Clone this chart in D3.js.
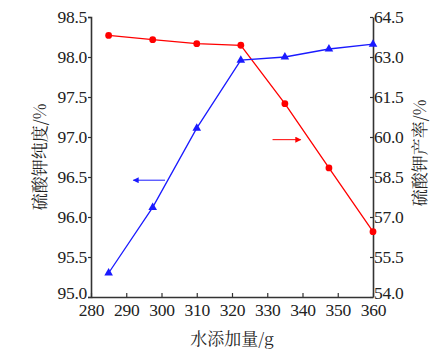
<!DOCTYPE html>
<html><head><meta charset="utf-8">
<script src="https://cdn.jsdelivr.net/npm/d3@7"></script>
<style>body{margin:0;background:#fff}</style>
</head><body><svg id="c" width="446" height="357"></svg>
<script>
const water = [285, 297.5, 310, 322.5, 335, 347.5, 360];
const purity = [95.30, 96.12, 97.11, 97.96, 98.00, 98.10, 98.16];
const yieldPct = [63.81, 63.65, 63.50, 63.44, 61.25, 58.84, 56.45];
const xTicks = [280, 290, 300, 310, 320, 330, 340, 350, 360];
const yLeftTicks = [95.0, 95.5, 96.0, 96.5, 97.0, 97.5, 98.0, 98.5];
const yRightTicks = [54.0, 55.5, 57.0, 58.5, 60.0, 61.5, 63.0, 64.5];
const xTitle = "水添加量/g", yLeftTitle = "硫酸钾纯度/%", yRightTitle = "硫酸钾产率/%";

const svg = d3.select("#c");
const L = 91, R = 373, T = 17, B = 297;
const x = d3.scaleLinear().domain([280, 360]).range([L, R]);
const yl = d3.scaleLinear().domain([95, 98.5]).range([B, T]);
const yr = d3.scaleLinear().domain([54, 64.5]).range([B, T]);
const font = "Liberation Serif";
const cjk = "Noto Serif CJK SC";
const axColor = "#333";

function style(g){
  g.select(".domain").attr("stroke", axColor).attr("stroke-width", 1.6);
  g.selectAll(".tick line").attr("stroke", axColor).attr("stroke-width", 1.2);
  g.selectAll(".tick text").attr("fill", "#222").attr("font-family", font).attr("font-size", 17.5)
    .style("letter-spacing", "-0.3px");
}
svg.append("g").attr("transform", `translate(0,${B})`)
  .call(d3.axisBottom(x).tickValues(xTicks).tickSizeInner(-4).tickSizeOuter(0).tickPadding(7).tickFormat(d3.format("d")))
  .call(style);
const gl = svg.append("g").attr("transform", `translate(${L},0)`)
  .call(d3.axisLeft(yl).tickValues(yLeftTicks).tickSize(3).tickPadding(1).tickFormat(d3.format(".1f")))
  .call(style);
const gr = svg.append("g").attr("transform", `translate(${R},0)`)
  .call(d3.axisRight(yr).tickValues(yRightTicks).tickSizeInner(-3).tickSizeOuter(0).tickPadding(1).tickFormat(d3.format(".1f")))
  .call(style);
// nudge bottom-corner labels up slightly so they don't collide with x labels
gl.selectAll(".tick text").filter(d => d === yLeftTicks[0]).attr("dy", "0.1em");
gr.selectAll(".tick text").filter(d => d === yRightTicks[0]).attr("dy", "0.1em");

const red = "#ff0000", blue = "#1a1aff";
const lineL = d3.line().x((d,i)=>x(water[i])).y(d=>yl(d));
const lineR = d3.line().x((d,i)=>x(water[i])).y(d=>yr(d));
svg.append("path").datum(yieldPct).attr("d", lineR).attr("fill","none").attr("stroke",red).attr("stroke-width",1.3);
svg.append("path").datum(purity).attr("d", lineL).attr("fill","none").attr("stroke",blue).attr("stroke-width",1.3);
svg.selectAll(".rp").data(yieldPct).enter().append("circle")
  .attr("cx",(d,i)=>x(water[i])).attr("cy",d=>yr(d)).attr("r",3.4).attr("fill",red);
const tri = d3.symbol().type(d3.symbolTriangle).size(32);
svg.selectAll(".bp").data(purity).enter().append("path")
  .attr("d", tri).attr("transform",(d,i)=>`translate(${x(water[i])},${yl(d)})`).attr("fill",blue);

// arrows
const defs = svg.append("defs");
function marker(id,c){
  defs.append("marker").attr("id",id).attr("viewBox","0 0 10 10").attr("refX",9).attr("refY",5)
    .attr("markerWidth",8).attr("markerHeight",6).attr("markerUnits","userSpaceOnUse").attr("orient","auto")
    .append("path").attr("d","M0,0L10,5L0,10z").attr("fill",c);
}
marker("ar",red); marker("ab",blue);
svg.append("line").attr("x1",x(331.5)).attr("x2",x(339.5)).attr("y1",yr(59.9)).attr("y2",yr(59.9))
  .attr("stroke",red).attr("stroke-width",1).attr("marker-end","url(#ar)");
svg.append("line").attr("x1",x(301)).attr("x2",x(292)).attr("y1",yl(96.46)).attr("y2",yl(96.46))
  .attr("stroke",blue).attr("stroke-width",1).attr("marker-end","url(#ab)");

function title(t, tr){
  svg.append("text").attr("transform", tr).attr("text-anchor","middle")
    .attr("font-family", cjk).attr("font-size", 17).attr("fill","#222").text(t);
}
title(xTitle, `translate(${(L+R)/2},345)`);
title(yLeftTitle, `translate(46,157) rotate(-90)`);
title(yRightTitle, `translate(426,153) rotate(-90)`);
</script></body></html>
